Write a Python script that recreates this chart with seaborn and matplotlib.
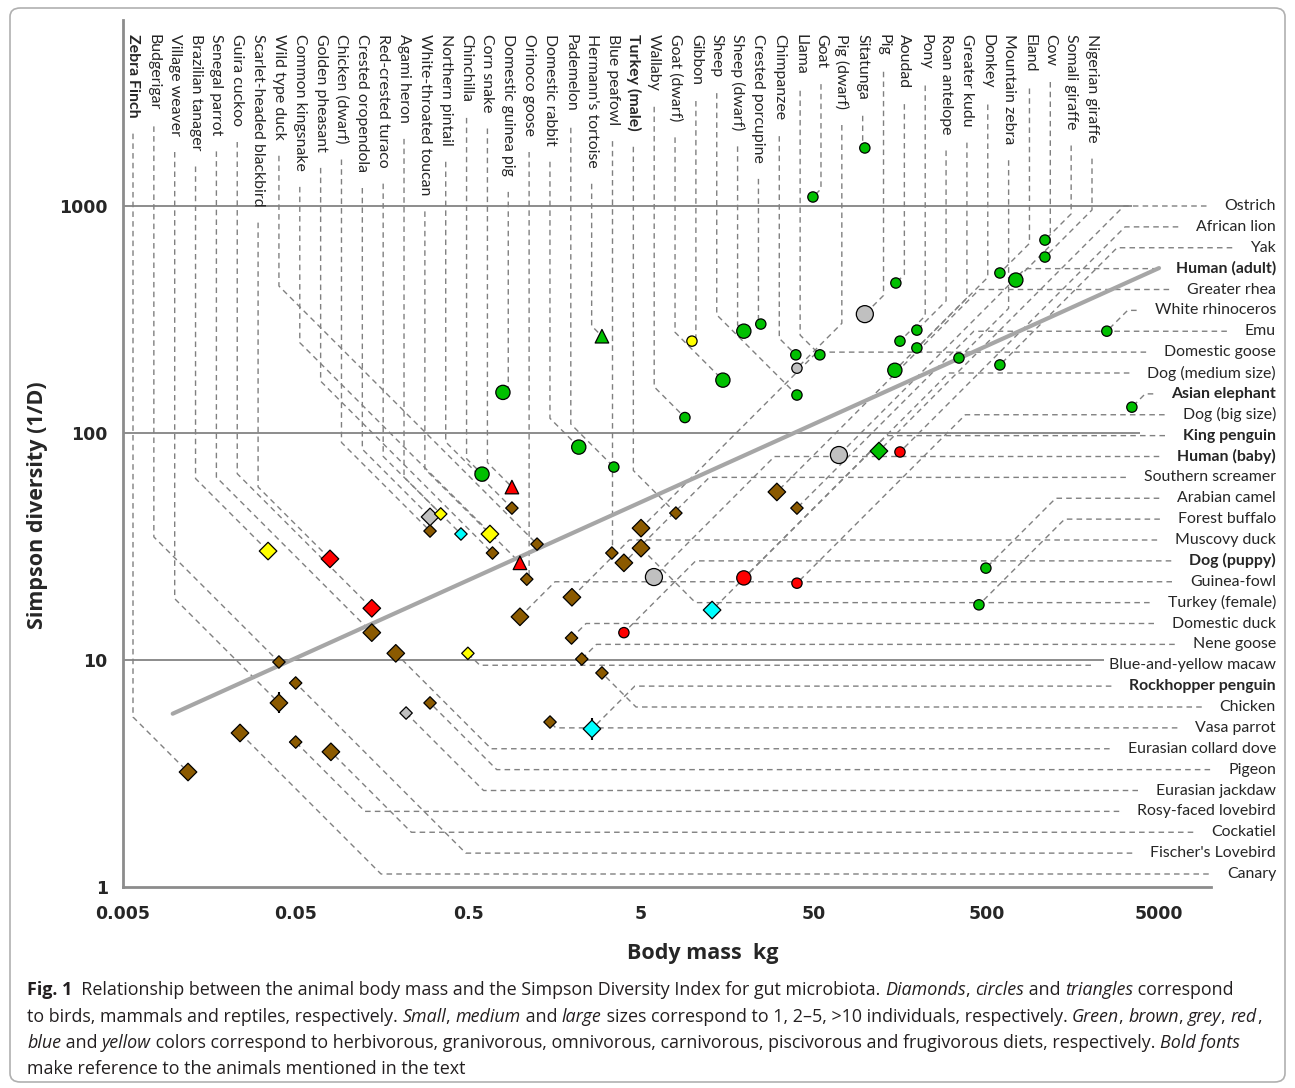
import numpy as np
import pandas as pd
import seaborn as sns
import matplotlib.pyplot as plt
from matplotlib.patches import FancyBboxPatch

# ---- animals labelled along the top (left to right) ----
top_names = ["Zebra Finch", "Budgerigar", "Village weaver", "Brazilian tanager", "Senegal parrot",
             "Guira cuckoo", "Scarlet-headed blackbird", "Wild type duck", "Common kingsnake",
             "Golden pheasant", "Chicken (dwarf)", "Crested oropendola", "Red-crested turaco",
             "Agami heron", "White-throated toucan", "Northern pintail", "Chinchilla", "Corn snake",
             "Domestic guinea pig", "Orinoco goose", "Domestic rabbit", "Pademelon",
             "Hermann's tortoise", "Blue peafowl", "Turkey (male)", "Wallaby", "Goat (dwarf)",
             "Gibbon", "Sheep", "Sheep (dwarf)", "Crested porcupine", "Chimpanzee", "Llama", "Goat",
             "Pig (dwarf)", "Sitatunga", "Pig", "Aoudad", "Pony", "Roan antelope", "Greater kudu",
             "Donkey", "Mountain zebra", "Eland", "Cow", "Somali giraffe", "Nigerian giraffe"]
top_mass = [0.0119, 0.040, 0.040, 0.0346, 0.138, 0.138, 0.079, 1.25, 0.995, 0.69, 0.30, 0.30,
            0.346, 0.453, 0.667, 0.894, 0.60, 0.894, 0.793, 1.09, 2.18, 3.48, 2.97, 3.39, 7.96,
            8.98, 14.9, 9.86, 40.0, 19.7, 24.7, 39.4, 54.3, 49.5, 40.0, 98.9, 98.9, 149.6, 158,
            198, 198, 147.6, 347, 599, 741, 1092, 1092]
top_div = [3.21, 9.8, 6.47, 30.2, 13.2, 16.9, 27.9, 32.4, 26.8, 29.6, 37.0, 42.7, 44.0, 35.9,
           35.9, 46.7, 65.9, 57.8, 151, 22.7, 86.7, 70.8, 267, 29.6, 44.4, 117, 171, 254, 147,
           281, 302, 221, 221, 1096, 193, 1802, 334, 458, 254, 284, 237, 189, 214, 507, 472, 708, 596]
top_class = ["bird"] * 8 + ["reptile"] + ["bird"] * 7 + ["mammal", "reptile", "mammal", "bird",
             "mammal", "mammal", "reptile", "bird", "bird"] + ["mammal"] * 22
top_diet = ["gran", "gran", "gran", "frug", "gran", "carn", "carn", "gran", "carn", "gran", "gran",
            "omni", "frug", "pisc", "frug", "gran", "herb", "carn", "herb", "gran", "herb", "herb",
            "herb", "gran", "gran", "herb", "herb", "frug", "herb", "herb", "herb", "herb", "herb",
            "herb", "omni", "herb", "omni", "herb", "herb", "herb", "herb", "herb", "herb", "herb",
            "herb", "herb", "herb"]
top_n = ["L", "S", "L", "L", "L", "L", "L", "S", "M", "S", "S", "L", "S", "S", "L", "S", "M", "M",
         "M", "S", "M", "S", "M", "S", "S", "S", "M", "S", "S", "M", "S", "S", "S", "S", "S", "S",
         "L", "S", "S", "S", "S", "M", "S", "S", "M", "S", "S"]

# ---- animals labelled on the right (top to bottom) ----
right_names = ["Ostrich", "African lion", "Yak", "Human (adult)", "Greater rhea", "White rhinoceros",
               "Emu", "Domestic goose", "Dog (medium size)", "Asian elephant", "Dog (big size)",
               "King penguin", "Human (baby)", "Southern screamer", "Arabian camel", "Forest buffalo",
               "Muscovy duck", "Dog (puppy)", "Guinea-fowl", "Turkey (female)", "Domestic duck",
               "Nene goose", "Blue-and-yellow macaw", "Rockhopper penguin", "Chicken", "Vasa parrot",
               "Eurasian collard dove", "Pigeon", "Eurasian jackdaw", "Rosy-faced lovebird",
               "Cockatiel", "Fischer's Lovebird", "Canary"]
right_mass = [119.4, 158, 599, 70, 30.6, 2493, 40, 5.0, 19.7, 3482, 40, 12.9, 5.94, 3.98, 497, 453,
              1.99, 3.98, 0.995, 5.0, 1.98, 2.27, 0.497, 2.6, 2.97, 1.486, 0.19, 0.30, 0.218, 0.05,
              0.08, 0.05, 0.0238]
right_div = [83.3, 82.5, 199.5, 80, 55, 281, 46.7, 38.1, 23.0, 130, 21.8, 16.6, 23.2, 26.8, 25.4,
             17.5, 18.9, 13.2, 15.5, 31.1, 12.5, 10.1, 10.7, 4.97, 8.77, 5.33, 10.7, 6.47, 5.84,
             4.35, 3.94, 7.92, 4.77]
right_class = ["bird", "mammal", "mammal", "mammal", "bird", "mammal", "bird", "bird", "mammal",
               "mammal", "mammal", "bird", "mammal", "bird", "mammal", "mammal", "bird", "mammal"] + ["bird"] * 15
right_diet = ["herb", "carn", "herb", "omni", "gran", "herb", "gran", "gran", "carn", "herb", "carn",
              "pisc", "omni", "gran", "herb", "herb", "gran", "carn", "gran", "gran", "gran", "gran",
              "frug", "pisc", "gran", "gran", "gran", "gran", "omni", "gran", "gran", "gran", "gran"]
right_n = ["L", "S", "S", "L", "L", "S", "S", "L", "M", "S", "S", "L", "L", "L", "S", "S", "L", "S",
           "L", "L", "S", "S", "S", "L", "S", "S", "L", "S", "S", "S", "L", "S", "L"]

bold_names = ["Zebra Finch", "Turkey (male)", "Human (adult)", "Asian elephant", "King penguin",
              "Human (baby)", "Dog (puppy)", "Rockhopper penguin"]

# error bars
err_mass = [0.040, 0.0238, 2.6]
err_low = [5.85, 4.35, 4.45]
err_high = [7.2, 5.25, 5.55]

# fitted trend line end points
trend_mass = [0.0097, 5000]
trend_div = [5.8, 533]

grid_y = [10, 100, 1000]
grid_xmax = [2400, 3900, 3500]

x_ticks = [0.005, 0.05, 0.5, 5, 50, 500, 5000]
x_ticklabels = ["0.005", "0.05", "0.5", "5", "50", "500", "5000"]
y_ticks = [1, 10, 100, 1000]
y_ticklabels = ["1", "10", "100", "1000"]

diet_colors = {"herb": "#00c000", "gran": "#8b5a00", "omni": "#c0c0c0",
               "carn": "#ff0000", "pisc": "#00ffff", "frug": "#ffff00"}
markers = {"bird": "D", "mammal": "o", "reptile": "^"}
marker_sizes = {"bird": {"S": 40, "M": 60, "L": 80},
                "mammal": {"S": 55, "M": 105, "L": 150},
                "reptile": {"S": 90, "M": 95, "L": 110}}

sns.set_style("white")
plt.rcParams["font.family"] = ["Lato", "DejaVu Sans"]

W, H = 1295, 1088
fig = plt.figure(figsize=(W / 100, H / 100), dpi=100)
ax = fig.add_axes([123 / W, 1 - 887 / H, (1211 - 123) / W, (887 - 20) / H])
ax.set_xscale("log")
ax.set_yscale("log")
ax.set_xlim(0.005, 10000)
ax.set_ylim(1, 6600)

df = pd.DataFrame({
    "name": top_names + right_names,
    "mass": top_mass + right_mass,
    "div": top_div + right_div,
    "cls": top_class + right_class,
    "diet": top_diet + right_diet,
    "n": top_n + right_n,
})

for cls, sub in df.groupby("cls"):
    sns.scatterplot(data=sub, x="mass", y="div", hue="diet", palette=diet_colors,
                    size="n", sizes=marker_sizes[cls], marker=markers[cls],
                    edgecolor="black", linewidth=0.9, legend=False, zorder=4, ax=ax)

ax.vlines(err_mass, err_low, err_high, color="black", lw=1.5, zorder=3)
sns.lineplot(x=trend_mass, y=trend_div, color="#a6a6a6", lw=3, zorder=2, ax=ax)
ax.hlines(grid_y, 0.005, grid_xmax, color="#8c8c8c", lw=1.4, zorder=0, clip_on=False)

for side in ["top", "right"]:
    ax.spines[side].set_visible(False)
for side in ["left", "bottom"]:
    ax.spines[side].set_color("#8c8c8c")
    ax.spines[side].set_linewidth(2)
ax.set_xticks(x_ticks, x_ticklabels)
ax.set_yticks(y_ticks, y_ticklabels)
ax.minorticks_off()
ax.tick_params(axis="both", length=0)
ax.tick_params(axis="x", pad=13)
ax.tick_params(axis="y", pad=11)
for lab in ax.get_xticklabels() + ax.get_yticklabels():
    lab.set_fontfamily("DejaVu Sans")
    lab.set_fontweight("bold")
    lab.set_fontsize(12.5)
ax.set_xlabel("")
ax.set_ylabel("")

fig.text(38 / W, 1 - 505 / H, "Simpson diversity (1/D)", rotation=90, ha="center", va="center",
         fontsize=15.5, fontweight="bold", family=["Open Sans", "DejaVu Sans"])
fig.text(703 / W, 1 - 954 / H, "Body mass  kg", ha="center", va="center",
         fontsize=15.5, fontweight="bold", family=["Open Sans", "DejaVu Sans"])

# animal labels
top_x = np.linspace(133, 1092, len(top_names))
right_y = np.linspace(206, 874, len(right_names))
top_texts = []
for name, xp in zip(top_names, top_x):
    t = fig.text(xp / W, 1 - 34 / H, name, rotation=270, ha="center", va="top", fontsize=11.4,
                 fontweight="bold" if name in bold_names else "normal")
    top_texts.append(t)
right_texts = []
for name, yp in zip(right_names, right_y):
    t = fig.text(1276 / W, 1 - yp / H, name, ha="right", va="center", fontsize=11.4,
                 fontweight="bold" if name in bold_names else "normal")
    right_texts.append(t)

fig.canvas.draw()
renderer = fig.canvas.get_renderer()
to_disp = ax.transData.transform
to_data = ax.transData.inverted().transform


def leader(path):
    pts = to_data(np.array(path, dtype=float))
    ax.plot(pts[:, 0], pts[:, 1], ls=(0, (4, 3)), lw=1, color="#808080", clip_on=False, zorder=1)


for t, m, d in zip(top_texts, top_mass, top_div):
    bb = t.get_window_extent(renderer)
    xl = (bb.x0 + bb.x1) / 2
    sy = bb.y0 - 16
    px, py = to_disp((m, d))
    dx = px - xl
    k = min(abs(dx), max(sy - py - 4, 0))
    s = np.sign(dx)
    leader([(xl, sy), (xl, py + k), (xl + s * k, py), (px, py)])

for t, m, d in zip(right_texts, right_mass, right_div):
    bb = t.get_window_extent(renderer)
    yl = (bb.y0 + bb.y1) / 2
    sx = bb.x0 - 18
    px, py = to_disp((m, d))
    dy = py - yl
    k = min(abs(dy), max(sx - px - 4, 0))
    s = np.sign(dy)
    leader([(sx, yl), (px + k, yl), (px, yl + s * k), (px, py)])

# caption
cap_lines = [
    [("Fig. 1", "b"), ("  Relationship between the animal body mass and the Simpson Diversity Index for gut microbiota. ", ""),
     ("Diamonds", "i"), (", ", ""), ("circles", "i"), (" and ", ""), ("triangles", "i"), (" correspond", "")],
    [("to birds, mammals and reptiles, respectively. ", ""), ("Small", "i"), (", ", ""), ("medium", "i"),
     (" and ", ""), ("large", "i"), (" sizes correspond to 1, 2\u20135, >10 individuals, respectively. ", ""),
     ("Green", "i"), (", ", ""), ("brown", "i"), (", ", ""), ("grey", "i"), (", ", ""), ("red", "i"), (",", "")],
    [("blue", "i"), (" and ", ""), ("yellow", "i"),
     (" colors correspond to herbivorous, granivorous, omnivorous, carnivorous, piscivorous and frugivorous diets, respectively. ", ""),
     ("Bold fonts", "i")],
    [("make reference to the animals mentioned in the text", "")],
]
cap_y = [990, 1017, 1043, 1069]


def run_width(text, style, size):
    kw = dict(fontsize=size, family=["Open Sans", "DejaVu Sans"],
              fontweight="bold" if "b" in style else "normal",
              fontstyle="italic" if "i" in style else "normal")
    a = fig.text(0, 0, text + "|", **kw)
    b = fig.text(0, 0, "|", **kw)
    w = a.get_window_extent(renderer).width - b.get_window_extent(renderer).width
    a.remove()
    b.remove()
    return w, kw


base = 11
widest = max(sum(run_width(txt, st, base)[0] for txt, st in runs) for runs in cap_lines)
cap_size = base * 1241 / widest
for runs, yc in zip(cap_lines, cap_y):
    x = 27
    for txt, st in runs:
        w, kw = run_width(txt, st, cap_size)
        fig.text(x / W, 1 - yc / H, txt, ha="left", va="center", color="#231f20", **kw)
        x += w

frame = FancyBboxPatch((10 / W, 6 / H), (W - 20) / W, (H - 14) / H,
                       boxstyle="round,pad=0,rounding_size=0.008", transform=fig.transFigure,
                       fill=False, edgecolor="#b0b0b0", lw=1.2)
fig.patches.append(frame)

fig.savefig("out.png", dpi=100)
